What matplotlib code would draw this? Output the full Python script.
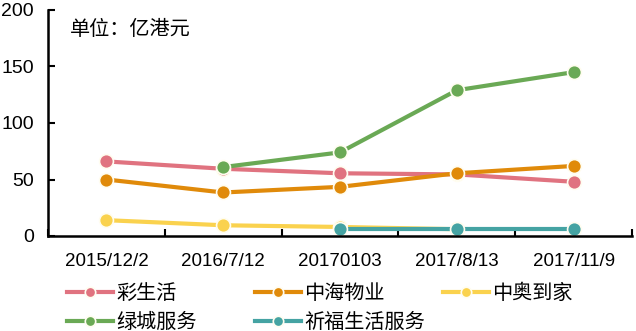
import numpy as np
import matplotlib.pyplot as plt

plt.rcParams['font.family'] = ['Liberation Sans', 'Noto Sans CJK SC', 'DejaVu Sans']

dates = ['2015/12/2', '2016/7/12', '20170103', '2017/8/13', '2017/11/9']
names = ['彩生活', '中海物业', '中奥到家', '绿城服务', '祈福生活服务']
nan = np.nan
# 单位：亿港元
caishenghuo = [66, 59.5, 55.5, 54.5, 48]
zhonghai = [50, 38.5, 43.5, 55.5, 62]
zhongao = [14, 9.5, 8, 6, nan]
lvcheng = [nan, 61, 74, 129, 145]
qifu = [nan, nan, 6, 6, 6]
colors = ['#E07380', '#E08A0A', '#FAD24E', '#6AA955', '#45A3A3']

series = [caishenghuo, zhonghai, zhongao, lvcheng, qifu]

W, H = 636, 331
fig = plt.figure(figsize=(W / 100, H / 100), dpi=100)
ax = fig.add_axes([48 / W, 1 - 236 / H, (632 - 48) / W, (236 - 10) / H])

x = np.arange(len(dates))
lines = []
for name, vals, c in zip(names, series, colors):
    ln, = ax.plot(x, vals, color=c, lw=3, marker='o', ms=10,
                  markeredgecolor='#FFFDF0', markeredgewidth=1.2, label=name)
    lines.append(ln)

ax.set_xlim(-0.5, len(dates) - 0.5)
ax.set_ylim(0, 200)
ax.set_yticks([0, 50, 100, 150, 200])
ax.set_xticks(x)
ax.set_xticklabels(dates)
ax.set_xticks(np.arange(len(dates) + 1) - 0.5, minor=True)
ax.tick_params(axis='x', which='major', length=0, labelsize=13.5, pad=12)
ax.tick_params(axis='x', which='minor', direction='in', length=5, width=1.5)
ax.tick_params(axis='y', direction='in', length=5, width=1.5, labelsize=14, pad=10)
for s in ['top', 'right']:
    ax.spines[s].set_visible(False)
for s in ['left', 'bottom']:
    ax.spines[s].set_linewidth(1.8)

ax.text(70 / W, 1 - 20 / H, '单位：亿港元', transform=fig.transFigure,
        fontsize=14.5, va='top', ha='left')

# legend: fixed-width columns, rows filled left to right
cols = [[0, 3], [1, 4], [2]]
col_x = [67, 255, 443]
for idx, cx in zip(cols, col_x):
    fig.legend([lines[i] for i in idx], [names[i] for i in idx],
               loc='upper left', bbox_to_anchor=(cx / W, 1 - 284 / H),
               frameon=False, fontsize=14.5, handlelength=2.3,
               handletextpad=0.15, labelspacing=0.5, markerscale=0.75,
               borderpad=0, borderaxespad=0)

fig.savefig('out.png', dpi=100)
